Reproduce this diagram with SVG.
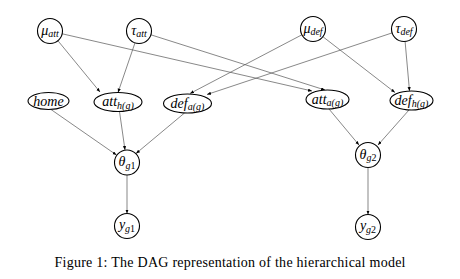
<svg xmlns="http://www.w3.org/2000/svg" width="460" height="279" viewBox="0 0 460 279">
<style>
.n{fill:#fff;stroke:#000;stroke-width:1.1}
.e{fill:none;stroke:#555;stroke-width:0.7;marker-end:url(#ah)}
.t{font-family:"Liberation Serif","Times New Roman",serif;font-style:italic;font-size:14px;fill:#000;text-anchor:middle}
.s{font-size:10px}
.u{font-style:normal}
.cap{font-family:"Liberation Serif","Times New Roman",serif;font-size:14px;fill:#000;text-anchor:middle}
</style>
<defs>
<marker id="ah" markerUnits="userSpaceOnUse" markerWidth="5" markerHeight="4" refX="4" refY="1.6" orient="auto">
<path d="M0,0 L4,1.6 L0,3.2 z" fill="#000"/>
</marker>
</defs>
<rect width="460" height="279" fill="#fff"/>
<g id="edges">
<line class="e" x1="57.9" y1="40.7" x2="100" y2="92"/>
<line class="e" x1="135" y1="42.8" x2="118" y2="92.5"/>
<line class="e" x1="62.2" y1="33.8" x2="312" y2="91"/>
<line class="e" x1="150.9" y1="34.8" x2="325" y2="90"/>
<line class="e" x1="301.9" y1="34.8" x2="190" y2="93.5"/>
<line class="e" x1="392.1" y1="32.9" x2="207" y2="94.5"/>
<line class="e" x1="322.9" y1="36.7" x2="395" y2="92.5"/>
<line class="e" x1="405.1" y1="41.5" x2="409.5" y2="91"/>
<line class="e" x1="51" y1="109.5" x2="116.5" y2="155"/>
<line class="e" x1="119.5" y1="111.5" x2="125" y2="150"/>
<line class="e" x1="184.5" y1="113" x2="136" y2="153.5"/>
<line class="e" x1="127" y1="175" x2="127" y2="213.5"/>
<line class="e" x1="329" y1="109" x2="359" y2="145"/>
<line class="e" x1="409" y1="110" x2="378" y2="145"/>
<line class="e" x1="368" y1="167.5" x2="368" y2="214.5"/>
</g>
<g id="mu_att"><circle class="n" cx="50" cy="31" r="12.5"/><text class="t" x="50" y="34.5">μ<tspan class="s" dy="2">att</tspan></text></g>
<g id="tau_att"><circle class="n" cx="139" cy="31" r="12.5"/><text class="t" x="139" y="34.5">τ<tspan class="s" dy="2">att</tspan></text></g>
<g id="mu_def"><circle class="n" cx="313" cy="29" r="12.5"/><text class="t" x="313" y="32.5">μ<tspan class="s" dy="2">def</tspan></text></g>
<g id="tau_def"><circle class="n" cx="404" cy="29" r="12.5"/><text class="t" x="404" y="32.5">τ<tspan class="s" dy="2">def</tspan></text></g>
<g id="home"><ellipse class="n" cx="48.5" cy="101" rx="20.5" ry="8.5"/><text class="t" x="48.5" y="105.5">home</text></g>
<g id="att_hg"><ellipse class="n" cx="118" cy="102" rx="24" ry="9.5"/><text class="t" x="118" y="106">att<tspan class="s" dy="2.5">h(g)</tspan></text></g>
<g id="def_ag"><ellipse class="n" cx="187.5" cy="103.5" rx="24" ry="9.5"/><text class="t" x="187.5" y="107.5">def<tspan class="s" dy="2.5">a(g)</tspan></text></g>
<g id="att_ag"><ellipse class="n" cx="327.5" cy="99.5" rx="21.5" ry="9.5"/><text class="t" x="327.5" y="103.5">att<tspan class="s" dy="2.5">a(g)</tspan></text></g>
<g id="def_hg"><ellipse class="n" cx="411.5" cy="100.5" rx="21.5" ry="9.5"/><text class="t" x="411.5" y="104.5">def<tspan class="s" dy="2.5">h(g)</tspan></text></g>
<g id="theta_g1"><circle class="n" cx="127" cy="162.5" r="12.5"/><text class="t" x="127" y="166">θ<tspan class="s" dy="2.5">g<tspan class="u">1</tspan></tspan></text></g>
<g id="theta_g2"><circle class="n" cx="368" cy="155" r="12.5"/><text class="t" x="368" y="158.5">θ<tspan class="s" dy="2.5">g<tspan class="u">2</tspan></tspan></text></g>
<g id="y_g1"><circle class="n" cx="127" cy="226" r="12.5"/><text class="t" x="127" y="229">y<tspan class="s" dy="2.5">g<tspan class="u">1</tspan></tspan></text></g>
<g id="y_g2"><circle class="n" cx="368" cy="227" r="12.5"/><text class="t" x="368" y="230">y<tspan class="s" dy="2.5">g<tspan class="u">2</tspan></tspan></text></g>
<text class="cap" x="230" y="266.5" textLength="351" lengthAdjust="spacing">Figure 1: The DAG representation of the hierarchical model</text>
</svg>
